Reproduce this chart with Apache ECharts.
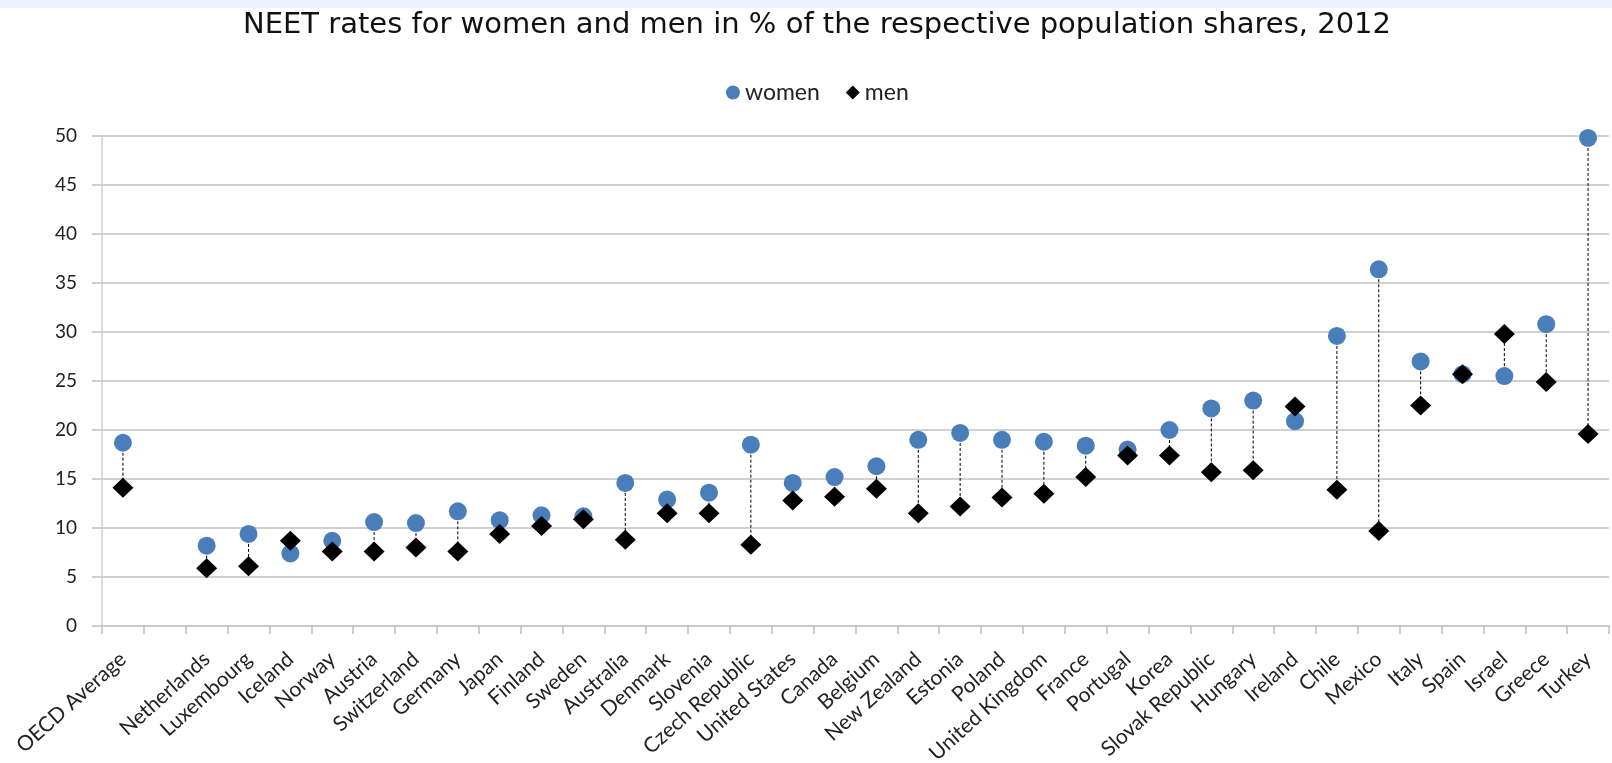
<!DOCTYPE html>
<html>
<head>
<meta charset="utf-8">
<script src="https://cdn.jsdelivr.net/npm/echarts@6/dist/echarts.min.js"></script>
<style>
  html, body { margin: 0; padding: 0; background: #fff; }
  #neetChart { width: 1612px; height: 763px; }
</style>
</head>
<body>
<div id="neetChart"></div>
<script>
// categories, the empty one is the gap after the OECD average
const countries = ['OECD Average', '', 'Netherlands', 'Luxembourg', 'Iceland', 'Norway', 'Austria',
  'Switzerland', 'Germany', 'Japan', 'Finland', 'Sweden', 'Australia', 'Denmark', 'Slovenia',
  'Czech Republic', 'United States', 'Canada', 'Belgium', 'New Zealand', 'Estonia', 'Poland',
  'United Kingdom', 'France', 'Portugal', 'Korea', 'Slovak Republic', 'Hungary', 'Ireland',
  'Chile', 'Mexico', 'Italy', 'Spain', 'Israel', 'Greece', 'Turkey']
const women = [18.7, null, 8.2, 9.4, 7.4, 8.7, 10.6, 10.5, 11.7, 10.8, 11.3, 11.2, 14.6, 12.9, 13.6,
  18.5, 14.6, 15.2, 16.3, 19.0, 19.7, 19.0, 18.8, 18.4, 18.0, 20.0, 22.2, 23.0, 20.9,
  29.6, 36.4, 27.0, 25.7, 25.5, 30.8, 49.8]
const men = [14.1, null, 5.9, 6.1, 8.7, 7.6, 7.6, 8.0, 7.6, 9.4, 10.2, 10.9, 8.8, 11.5, 11.5,
  8.3, 12.8, 13.2, 14.0, 11.5, 12.2, 13.1, 13.5, 15.2, 17.4, 17.4, 15.7, 15.9, 22.4,
  13.9, 9.7, 22.5, 25.7, 29.8, 24.9, 19.6]
const yTicks = { min: 0, max: 50, interval: 5 }

// pairs for the dashed connectors
const gaps = []
countries.forEach((c, i) => {
  if (women[i] !== null && men[i] !== null) gaps.push([i, women[i], men[i]])
})

const chart = echarts.init(document.getElementById('neetChart'), null, { renderer: 'canvas' })

chart.setOption({
  animation: false,
  backgroundColor: '#fff',
  graphic: [{
    type: 'rect',
    left: 0,
    top: 0,
    shape: { width: 1612, height: 8 },
    style: { fill: '#eaf3fd' },
  }],
  title: {
    text: 'NEET rates for women and men in % of the respective population shares, 2012',
    left: 238,
    top: 6,
    textStyle: {
      fontFamily: 'DejaVu Sans',
      fontSize: 29,
      fontWeight: 'normal',
      color: '#111',
    },
  },
  legend: {
    data: [
      { name: 'women', icon: 'circle' },
      { name: 'men', icon: 'diamond' },
    ],
    top: 76,
    left: 721,
    itemGap: 26,
    itemWidth: 14,
    itemHeight: 14,
    textStyle: { fontFamily: 'Lato', fontSize: 23, color: '#222' },
  },
  grid: { left: 102, right: 3, top: 136, bottom: 137, outerBoundsMode: 'none' },
  xAxis: {
    type: 'category',
    data: countries,
    boundaryGap: true,
    axisLine: { lineStyle: { color: '#c8c8c8', width: 1.5 } },
    axisTick: { show: true, length: 8, interval: 0, lineStyle: { color: '#c0c0c0', width: 1.5 } },
    axisLabel: {
      interval: 0,
      rotate: 42,
      margin: 30,
      fontFamily: 'Lato',
      fontSize: 21,
      color: '#222',
    },
  },
  yAxis: {
    type: 'value',
    min: yTicks.min,
    max: yTicks.max,
    interval: yTicks.interval,
    axisLine: { show: true, lineStyle: { color: '#d0d0d0', width: 1.5 } },
    axisTick: { show: true, length: 10, lineStyle: { color: '#c0c0c0', width: 1.5 } },
    axisLabel: { margin: 25, fontFamily: 'Lato', fontSize: 19, color: '#222' },
    splitLine: { lineStyle: { color: '#c0c0c0', width: 1.5 } },
  },
  series: [
    {
      name: 'gap',
      type: 'custom',
      data: gaps,
      z: 1,
      silent: true,
      renderItem: function (params, api) {
        const p1 = api.coord([api.value(0), api.value(1)])
        const p2 = api.coord([api.value(0), api.value(2)])
        return {
          type: 'line',
          shape: { x1: p1[0], y1: p1[1], x2: p2[0], y2: p2[1] },
          style: { stroke: '#000', lineWidth: 1, lineDash: [3, 2] },
        }
      },
    },
    {
      name: 'women',
      type: 'scatter',
      data: women,
      symbol: 'circle',
      symbolSize: 18,
      z: 3,
      itemStyle: { color: '#4a7ebb', opacity: 1 },
    },
    {
      name: 'men',
      type: 'scatter',
      data: men,
      symbol: 'diamond',
      symbolSize: [21, 20],
      z: 4,
      itemStyle: { color: '#000', opacity: 1 },
    },
  ],
})
</script>
</body>
</html>
